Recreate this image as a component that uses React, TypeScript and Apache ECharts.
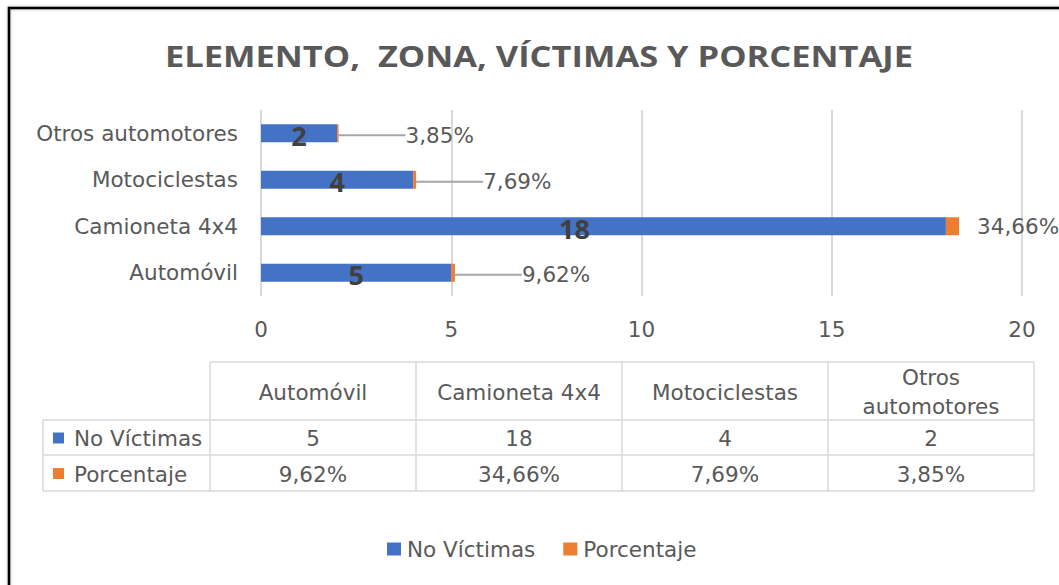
import React, { useEffect, useRef } from "react";
import * as echarts from "echarts";

const categories = ["Automóvil", "Camioneta 4x4", "Motociclestas", "Otros automotores"];
const tableHeaders = ["Automóvil", "Camioneta 4x4", "Motociclestas", "Otros\nautomotores"];
const victimas = [5, 18, 4, 2];
const porcentajes = [9.62, 34.66, 7.69, 3.85];
const seriesNames = ["No Víctimas", "Porcentaje"];
const xTicks = [0, 5, 10, 15, 20];
const title = "ELEMENTO,  ZONA, VÍCTIMAS Y PORCENTAJE";

const BLUE = "#4472C4";
const ORANGE = "#ED7D31";
const TXT = "#595959";
const FONT = "'DejaVu Sans', 'Open Sans', sans-serif";
const BOLDFONT = "'Open Sans', 'Noto Sans', sans-serif";
const FS = 21.5;

const fmtPct = (v: number) => v.toFixed(2).replace(".", ",") + "%";

export default function App() {
  const ref = useRef<HTMLDivElement>(null);
  useEffect(() => {
    if (!ref.current) return;
    const chart = echarts.init(ref.current, undefined, { renderer: "svg" });

    const colX = [210, 416, 622, 828, 1034];
    const tableLeft = 43;
    const rowY = [362, 420, 455, 491];
    const lineStyle = { stroke: "#d9d9d9", lineWidth: 1.5 };
    const g: any[] = [];
    // frame
    g.push({
      type: "rect",
      shape: { x: 9, y: 8, width: 1200, height: 700 },
      style: { fill: "none", stroke: "#000", lineWidth: 2.5, shadowBlur: 3, shadowColor: "rgba(0,0,0,0.35)" },
      silent: true,
    });
    // title
    g.push({
      type: "text",
      x: 539,
      y: 56,
      scaleX: 1.24,
      style: {
        text: title,
        fill: TXT,
        font: `bold 27.8px ${BOLDFONT}`,
        align: "center",
        verticalAlign: "middle",
      },
    });
    // table lines
    g.push({ type: "line", shape: { x1: colX[0], y1: rowY[0], x2: colX[4], y2: rowY[0] }, style: lineStyle });
    for (let i = 1; i < rowY.length; i++) {
      g.push({ type: "line", shape: { x1: tableLeft, y1: rowY[i], x2: colX[4], y2: rowY[i] }, style: lineStyle });
    }
    g.push({ type: "line", shape: { x1: tableLeft, y1: rowY[1], x2: tableLeft, y2: rowY[3] }, style: lineStyle });
    colX.forEach((x) => {
      g.push({ type: "line", shape: { x1: x, y1: rowY[0], x2: x, y2: rowY[3] }, style: lineStyle });
    });
    // header texts
    tableHeaders.forEach((h, i) => {
      g.push({
        type: "text",
        x: (colX[i] + colX[i + 1]) / 2,
        y: (rowY[0] + rowY[1]) / 2 + 1,
        style: { text: h, fill: TXT, font: `${FS}px ${FONT}`, align: "center", verticalAlign: "middle", lineHeight: 29 },
      });
    });
    const rows = [victimas.map((v) => String(v)), porcentajes.map(fmtPct)];
    const colors = [BLUE, ORANGE];
    rows.forEach((row, r) => {
      const cy = (rowY[r + 1] + rowY[r + 2]) / 2 + 1;
      g.push({ type: "rect", shape: { x: 53, y: cy - 6, width: 11, height: 11 }, style: { fill: colors[r] } });
      g.push({
        type: "text",
        x: 74,
        y: cy,
        style: { text: seriesNames[r], fill: TXT, font: `${FS}px ${FONT}`, align: "left", verticalAlign: "middle" },
      });
      row.forEach((t, i) => {
        g.push({
          type: "text",
          x: (colX[i] + colX[i + 1]) / 2,
          y: cy,
          style: { text: t, fill: TXT, font: `${FS}px ${FONT}`, align: "center", verticalAlign: "middle" },
        });
      });
    });

    const option: any = {
      animation: false,
      backgroundColor: "#fff",
      grid: { left: 261, right: 37, top: 110, bottom: 289, containLabel: false },
      legend: {
        top: 533,
        left: 382,
        icon: "rect",
        itemWidth: 14,
        itemHeight: 13,
        itemGap: 28,
        textStyle: { fontFamily: FONT, fontSize: FS, color: TXT, padding: [0, 0, 0, 1] },
        data: seriesNames,
      },
      xAxis: {
        type: "value",
        min: xTicks[0],
        max: xTicks[xTicks.length - 1],
        interval: xTicks[1] - xTicks[0],
        axisLine: { show: false },
        axisTick: { show: false },
        axisLabel: { color: TXT, fontFamily: FONT, fontSize: FS, margin: 22 },
        splitLine: { lineStyle: { color: "#d9d9d9", width: 2 } },
      },
      yAxis: {
        type: "category",
        data: categories,
        axisLine: { show: false },
        axisTick: { show: false },
        axisLabel: { color: TXT, fontFamily: FONT, fontSize: FS, margin: 23 },
      },
      series: [
        {
          name: seriesNames[0],
          type: "bar",
          stack: "s",
          barWidth: 18,
          itemStyle: { color: BLUE },
          data: victimas.map((v) => (v === 18 ? { value: v, label: { offset: [-29, 2] } } : { value: v })),
          label: {
            show: true,
            position: "inside",
            offset: [0, 2],
            color: "#404040",
            fontFamily: BOLDFONT,
            fontSize: 27,
            fontWeight: "bold",
          },
        },
        {
          name: seriesNames[1],
          type: "bar",
          stack: "s",
          barWidth: 18,
          itemStyle: { color: ORANGE },
          data: porcentajes.map((p, i) =>
            victimas[i] === 18
              ? { value: p / 100, label: { distance: 18, padding: 0 }, labelLine: { show: false } }
              : { value: p / 100 }
          ),
          label: {
            show: true,
            position: "right",
            distance: 5,
            padding: [0, 0, 0, 7],
            color: TXT,
            fontFamily: FONT,
            fontSize: FS,
            formatter: (p: any) => fmtPct(p.value * 100),
          },
          labelLayout: (params: any) => {
            if (params.dataIndex === 1) return {};
            return { dx: 55, dy: 2 };
          },
          labelLine: { show: true, lineStyle: { color: "#a6a6a6", width: 2 } },
        },
      ],
      graphic: g,
    };
    chart.setOption(option);
    return () => chart.dispose();
  }, []);
  return (
    <div
      ref={ref}
      style={{ position: "fixed", left: 0, top: 0, width: 1059, height: 585, background: "#fff" }}
    />
  );
}
